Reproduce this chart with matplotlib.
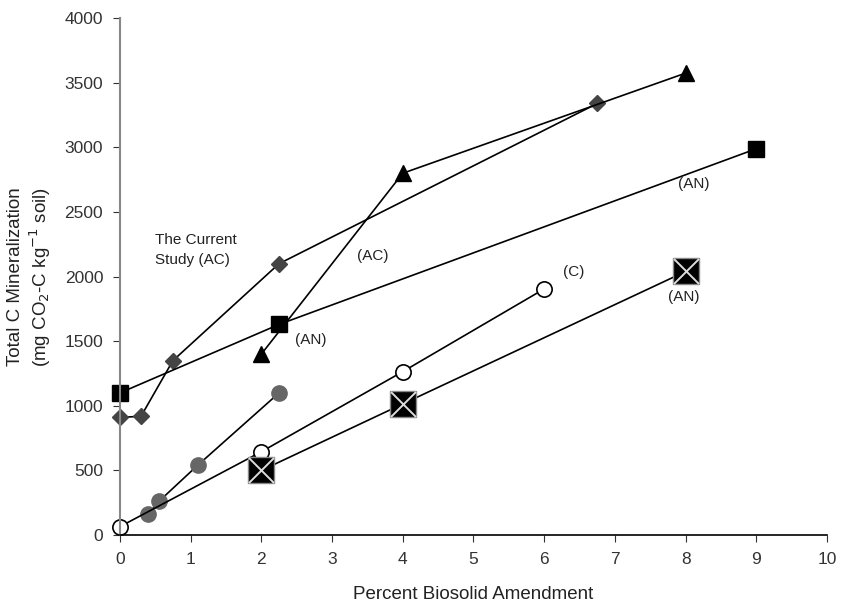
import numpy as np
import matplotlib.pyplot as plt

plt.rcParams['font.family'] = ['Liberation Sans', 'DejaVu Sans']

# amendment rate (%) vs total C mineralization (mg CO2-C / kg soil)
diamond_x = [0, 0.3, 0.75, 2.25, 6.75]
diamond_y = [910, 920, 1350, 2100, 3340]

triangle_x = [2, 4, 8]
triangle_y = [1400, 2800, 3575]

square_x = [0, 2.25, 9]
square_y = [1100, 1630, 2990]

gray_circle_x = [0.4, 0.55, 1.1, 2.25]
gray_circle_y = [160, 260, 540, 1100]

open_circle_x = [0, 2, 4, 6]
open_circle_y = [65, 645, 1265, 1905]

xsquare_x = [2, 4, 8]
xsquare_y = [500, 1015, 2040]

fig = plt.figure(figsize=(8.44, 6.06), dpi=100)
ax = fig.add_axes([0.142, 0.117, 0.838, 0.853])

line_kw = dict(color='black', lw=1.2, zorder=2)
ax.plot(diamond_x, diamond_y, marker='D', ms=8.5, mfc='#444444', mec='#444444', **line_kw)
ax.plot(triangle_x, triangle_y, marker='^', ms=11, mfc='black', mec='black', **line_kw)
ax.plot(square_x, square_y, marker='s', ms=11.5, mfc='black', mec='black', **line_kw)
ax.plot(gray_circle_x, gray_circle_y, marker='o', ms=11, mfc='#666666', mec='#666666', **line_kw)
ax.plot(open_circle_x, open_circle_y, marker='o', ms=11, mfc='white', mec='black', mew=1.2, **line_kw)
ax.plot(xsquare_x, xsquare_y, marker='s', ms=19, mfc='black', mec='#888888', mew=1, **line_kw)
ax.plot(xsquare_x, xsquare_y, ls='none', marker='x', ms=18, mew=1.4, color='#dddddd', zorder=3)

txt_kw = dict(fontsize=11, color='#222222', va='center')
ax.text(0.5, 2205, 'The Current\nStudy (AC)', linespacing=1.5, **txt_kw)
ax.text(3.35, 2160, '(AC)', **txt_kw)
ax.text(2.48, 1510, '(AN)', **txt_kw)
ax.text(6.27, 2035, '(C)', **txt_kw)
ax.text(7.89, 2716, '(AN)', **txt_kw)
ax.text(7.75, 1840, '(AN)', **txt_kw)

ax.set_xlim(0, 10)
ax.set_ylim(0, 4000)
ax.set_xticks(np.arange(0, 11, 1))
ax.set_yticks(np.arange(0, 4001, 500))
ax.set_xlabel('Percent Biosolid Amendment', fontsize=13.5, color='#222222', labelpad=14)
ax.set_ylabel('Total C Mineralization\n(mg CO$_2$-C kg$^{-1}$ soil)', fontsize=13.5,
              color='#222222', labelpad=8)
ax.tick_params(labelsize=12.5, colors='#333333', length=5, pad=7)

for side in ['top', 'right']:
    ax.spines[side].set_visible(False)
ax.spines['left'].set_color('#888888')
ax.spines['left'].set_linewidth(1.5)
ax.spines['bottom'].set_color('black')
ax.spines['bottom'].set_linewidth(1.2)

for m in ax.lines:
    m.set_clip_on(False)

fig.savefig('out.png', dpi=100)
